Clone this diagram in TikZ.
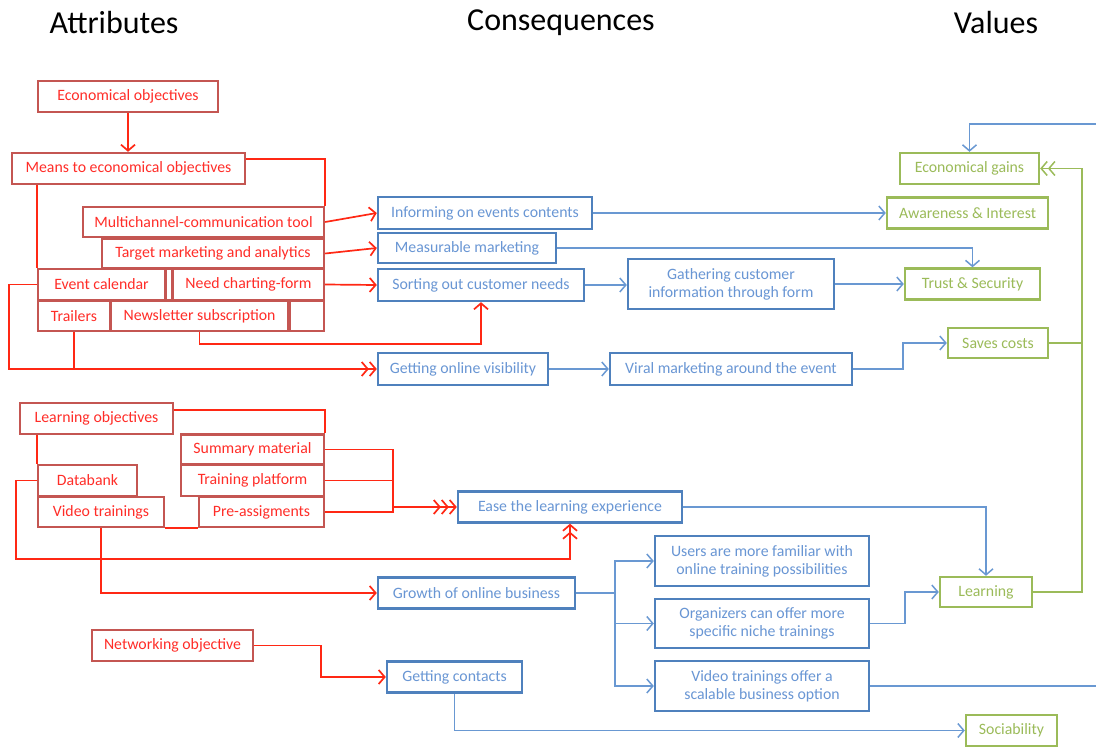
\documentclass[tikz,border=0pt]{standalone}
\usepackage{fontspec}
\setmainfont{Carlito}
\usetikzlibrary{arrows.meta}
\definecolor{attrdraw}{RGB}{196,86,82}
\definecolor{attrtext}{RGB}{255,45,40}
\definecolor{attrline}{RGB}{255,40,20}
\definecolor{consdraw}{RGB}{79,129,189}
\definecolor{constext}{RGB}{105,150,212}
\definecolor{consline}{RGB}{105,152,210}
\definecolor{valdraw}{RGB}{155,187,89}

\begin{document}
\begin{tikzpicture}[x=1pt,y=-1pt]
		\tikzstyle{every node}=[rectangle, inner sep=0pt, minimum height=31pt, fill=white, line width=2.4pt, font=\fontsize{15.8}{18}\selectfont]
		\tikzstyle{attr}=[draw=attrdraw, text=attrtext]
		\tikzstyle{cons}=[draw=consdraw, text=constext, align=center]
		\tikzstyle{val}=[draw=valdraw, text=valdraw]
		\tikzstyle{heading}=[draw=none, fill=none, font=\fontsize{32}{36}\selectfont]
		\tikzstyle{redline}=[draw=attrline, line width=1.7pt]
		\tikzstyle{blueline}=[draw=consline, line width=1.5pt]
		\tikzstyle{greenline}=[draw=valdraw, line width=1.5pt]
		\tikzstyle{onetip}=[-{Straight Barb[length=6pt,width=14pt]}]
		\tikzstyle{twotip}=[-{Straight Barb[length=6pt,width=14pt] Straight Barb[length=6pt,width=14pt]}]
		\tikzstyle{threetip}=[-{Straight Barb[length=6pt,width=14pt] Straight Barb[length=6pt,width=14pt] Straight Barb[length=6pt,width=14pt]}]
		\useasboundingbox (0,0) rectangle (1096,747);

		% headings
		\node (hAttr)[heading] at (114,23) {Attributes};
		\node (hCons)[heading] at (561,23) {Consequences};
		\node (hVal)[heading] at (996,23) {Values};

		% attributes
		\node (econObj)[attr, minimum width=180pt] at (128,96.5) {Economical objectives};
		\node (means)[attr, minimum width=233pt] at (128.5,168.5) {Means to economical objectives};
		\node (multi)[attr, minimum width=241pt, minimum height=30pt] at (203.5,222) {Multichannel-communication tool};
		\node (target)[attr, minimum width=222pt, minimum height=29pt] at (213,253.5) {Target marketing and analytics};
		\node (evcal)[attr, minimum width=127pt] at (101.5,284.5) {Event calendar};
		\node (slot)[attr, minimum width=6pt] at (169,284.5) {};
		\node (needChart)[attr, minimum width=151pt] at (248.5,284.5) {Need charting-form};
		\node (trailers)[attr, minimum width=72pt, minimum height=30pt] at (74,316) {Trailers};
		\node (newsl)[attr, minimum width=177pt, minimum height=30pt] at (199.5,316) {Newsletter subscription};
		\node (blank)[attr, minimum width=34pt, minimum height=30pt] at (307,316) {};

		\node (learnObj)[attr, minimum width=153pt] at (96.5,418.5) {Learning objectives};
		\node (summary)[attr, minimum width=143pt, minimum height=30pt] at (252.5,449.5) {Summary material};
		\node (training)[attr, minimum width=143pt] at (252.5,480.5) {Training platform};
		\node (databank)[attr, minimum width=99pt] at (87.5,480.5) {Databank};
		\node (videoTr)[attr, minimum width=126pt, minimum height=30pt] at (101,512) {Video trainings};
		\node (preAss)[attr, minimum width=125pt, minimum height=30pt] at (261.5,512) {Pre-assigments};
		\node (netObj)[attr, minimum width=161pt] at (172.5,645.5) {Networking objective};

		% consequences
		\node (inform)[cons, minimum width=214pt, minimum height=32pt] at (485,213) {Informing on events contents};
		\node (measur)[cons, minimum width=178pt, minimum height=30pt] at (467,248) {Measurable marketing};
		\node (sorting)[cons, minimum width=206pt, minimum height=32pt] at (481,285) {Sorting out customer needs};
		\node (gather)[cons, minimum width=206pt, minimum height=50pt] at (731,284) {Gathering customer\\information through form};
		\node (visib)[cons, minimum width=170pt, minimum height=32pt] at (463,369) {Getting online visibility};
		\node (viral)[cons, minimum width=242pt, minimum height=32pt] at (731,369) {Viral marketing around the event};
		\node (ease)[cons, minimum width=224pt] at (570,507) {Ease the learning experience};
		\node (users)[cons, minimum width=214pt, minimum height=50pt] at (762,561) {Users are more familiar with\\online training possibilities};
		\node (organ)[cons, minimum width=214pt, minimum height=49pt] at (762,623.5) {Organizers can offer more\\specific niche trainings};
		\node (videoOpt)[cons, minimum width=214pt, minimum height=50pt] at (762,686) {Video trainings offer a\\scalable business option};
		\node (growth)[cons, minimum width=197pt] at (476.5,593) {Growth of online business};
		\node (contacts)[cons, minimum width=135pt] at (454.5,677) {Getting contacts};

		% values
		\node (econGain)[val, minimum width=139pt] at (969.5,168.5) {Economical gains};
		\node (aware)[val, minimum width=161pt] at (967.5,213) {Awareness \& Interest};
		\node (trust)[val, minimum width=135pt] at (972.5,284) {Trust \& Security};
		\node (saves)[val, minimum width=100pt, minimum height=30pt] at (998,343) {Saves costs};
		\node (learning)[val, minimum width=92pt, minimum height=30pt] at (986,592) {Learning};
		\node (sociab)[val, minimum width=91pt] at (1011.5,730.5) {Sociability};

		\coordinate (learnJoin) at (393,507);
		\coordinate (greenRise) at (1082,343);
		\coordinate (offTop) at (1096,124);
		\coordinate (offBottom) at (1096,686);

		% red connectors
		\draw[redline, onetip] (econObj.south) -- (econObj.south |- means.north);
		\draw[redline] ([yshift=-7pt]means.north east) -| (multi.north east);
		\draw[redline] (evcal.north west |- means.south) -- (evcal.north west);
		\draw[redline, onetip] (multi.east) -- (inform.west);
		\draw[redline, onetip] (target.east) -- (measur.west);
		\draw[redline, onetip] (needChart.east) -- (sorting.west);
		\draw[redline, twotip] (evcal.west) -- ++(-28,0) |- (visib.west);
		\draw[redline] (trailers.south) -- (trailers.south |- visib.west);
		\draw[redline, onetip] (newsl.south) -- ++(0,12) -| (sorting.south);
		\draw[redline] ([yshift=-8pt]learnObj.north east) -| (summary.north east);
		\draw[redline] (databank.north west |- learnObj.south) -- (databank.north west);
		\draw[redline] (videoTr.south east) -- (preAss.south west);
		\draw[redline] (summary.east) -| ([yshift=-5pt]learnJoin) -- (preAss.east);
		\draw[redline, line width=1pt] (training.east) -- (training.east -| learnJoin);
		\draw[redline, threetip] (learnJoin) -- (ease.west);
		\draw[redline, twotip] (databank.west) -- ++(-21,0) |- ([yshift=-35pt]ease.south) -- (ease.south);
		\draw[redline, onetip] (videoTr.south) |- (growth.west);
		\draw[redline, onetip] (netObj.east) -- ++(67,0) |- (contacts.west);

		% blue connectors
		\draw[blueline, onetip] (inform.east) -- (aware.west);
		\draw[blueline, onetip] (measur.east) -| (trust.north);
		\draw[blueline, onetip] (sorting.east) -- (sorting.east -| gather.west);
		\draw[blueline, onetip] (gather.east) -- (gather.east -| trust.west);
		\draw[blueline, onetip] (visib.east) -- (viral.west);
		\draw[blueline, onetip] (viral.east) -- ++(50,0) |- (saves.west);
		\draw[blueline, onetip] (offTop) -| (econGain.north);
		\draw[blueline, onetip] (ease.east) -| (learning.north);
		\draw[blueline, onetip] (growth.east) -- ++(39,0) |- (users.west);
		\draw[blueline, onetip] (growth.east) -- ++(39,0) |- (organ.west);
		\draw[blueline, onetip] (growth.east) -- ++(39,0) |- (videoOpt.west);
		\draw[blueline, onetip] (organ.east) -- ++(35,0) |- (learning.west);
		\draw[blueline] (videoOpt.east) -- (offBottom);
		\draw[blueline, onetip] (contacts.south) |- (sociab.west);

		% green connectors
		\draw[greenline, twotip] (saves.east) -- (greenRise) |- (econGain.east);
		\draw[greenline] (learning.east) -| (greenRise);
\end{tikzpicture}
\end{document}
